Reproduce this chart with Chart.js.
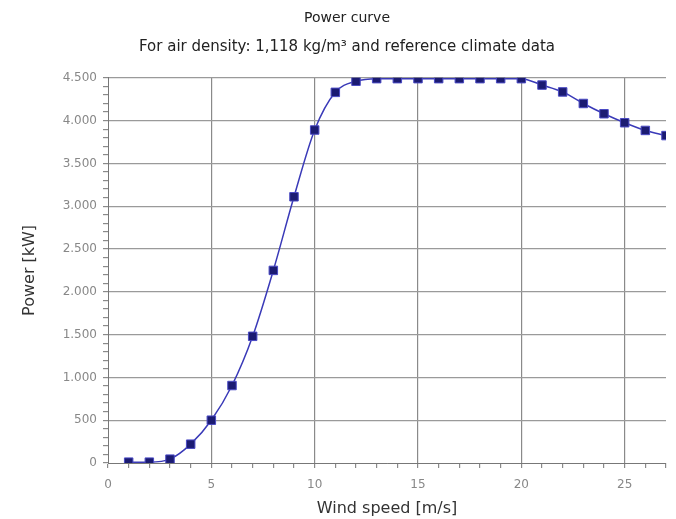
<!DOCTYPE html>
<html>
<head>
<meta charset="utf-8">
<script src="https://cdn.jsdelivr.net/npm/chart.js@4.4.0/dist/chart.umd.min.js"></script>
<style>
  html, body { margin: 0; padding: 0; background: #fff; }
  #wrap { width: 676px; height: 519px; }
</style>
</head>
<body>
<div id="wrap"><canvas id="powerChart" width="676" height="519"></canvas></div>
<script>
// wind speed [m/s] and power [kW]
const windSpeed = [1, 2, 3, 4, 5, 6, 7, 8, 9, 10, 11, 12, 13, 14, 15, 16, 17, 18, 19, 20, 21, 22, 23, 24, 25, 26, 27];
const powerKw = [10, 10, 45, 220, 500, 905, 1480, 2250, 3110, 3890, 4330, 4460, 4490, 4490, 4490, 4490, 4490, 4490, 4490, 4490, 4415, 4335, 4200, 4080, 3975, 3885, 3825];
const xTickLabels = [0, 5, 10, 15, 20, 25];
const yTickLabels = [0, 500, 1000, 1500, 2000, 2500, 3000, 3500, 4000, 4500];

const fmt = (v) => String(v).replace(/\B(?=(\d{3})+(?!\d))/g, '.');

const ctx = document.getElementById('powerChart');
new Chart(ctx, {
    type: 'line',
    data: {
        datasets: [{
            data: windSpeed.map((x, i) => ({ x: x, y: powerKw[i] })),
            borderColor: '#3a3ab8',
            borderWidth: 1.5,
            backgroundColor: '#1b1b72',
            pointStyle: 'rect',
            pointRadius: 6,
            pointBorderColor: '#4a4ac4',
            pointBorderWidth: 1,
            cubicInterpolationMode: 'monotone',
        }],
    },
    options: {
        responsive: false,
        animation: false,
        layout: { padding: { top: 4, right: 2, left: 20, bottom: 1 } },
        plugins: {
            legend: { display: false },
            tooltip: { enabled: false },
            title: {
                display: true,
                text: 'Power curve',
                color: '#222',
                font: { family: 'DejaVu Sans', size: 14, weight: 'normal' },
                padding: { top: 6, bottom: 11 },
            },
            subtitle: {
                display: true,
                text: 'For air density: 1,118 kg/m³ and reference climate data',
                color: '#222',
                font: { family: 'DejaVu Sans', size: 15, weight: 'normal' },
                padding: { bottom: 22 },
            },
        },
        scales: {
            x: {
                type: 'linear',
                min: 0,
                max: 27,
                border: { color: '#777', width: 1 },
                afterFit: (scale) => { scale.height = 55; },
                ticks: {
                    stepSize: 1,
                    autoSkip: false,
                    maxRotation: 0,
                    padding: 10,
                    color: '#888',
                    font: { family: 'DejaVu Sans', size: 12 },
                    callback: (v) => xTickLabels.includes(v) ? v : '',
                },
                grid: {
                    color: (c) => (c.tick && xTickLabels.includes(c.tick.value) && c.tick.value !== 0) ? '#8a8a8a' : 'rgba(0,0,0,0)',
                    tickColor: '#8a8a8a',
                    tickLength: 5,
                    lineWidth: 1.2,
                },
                title: {
                    display: true,
                    text: 'Wind speed [m/s]',
                    color: '#333',
                    font: { family: 'DejaVu Sans', size: 16 },
                    padding: { top: 4, bottom: 0 },
                },
            },
            y: {
                min: 0,
                max: 4500,
                border: { color: '#777', width: 1 },
                afterFit: (scale) => { scale.width = 88; },
                ticks: {
                    stepSize: 100,
                    autoSkip: false,
                    padding: 6,
                    color: '#888',
                    font: { family: 'DejaVu Sans', size: 12 },
                    callback: (v) => yTickLabels.includes(v) ? fmt(v) : '',
                },
                grid: {
                    color: (c) => (c.tick && yTickLabels.includes(c.tick.value) && c.tick.value !== 0) ? '#9a9a9a' : 'rgba(0,0,0,0)',
                    tickColor: '#8a8a8a',
                    tickLength: 5,
                    lineWidth: 1.2,
                },
                title: {
                    display: true,
                    text: 'Power [kW]',
                    color: '#333',
                    font: { family: 'DejaVu Sans', size: 16 },
                    padding: { top: 0, bottom: 20 },
                },
            },
        },
    },
});
</script>
</body>
</html>
